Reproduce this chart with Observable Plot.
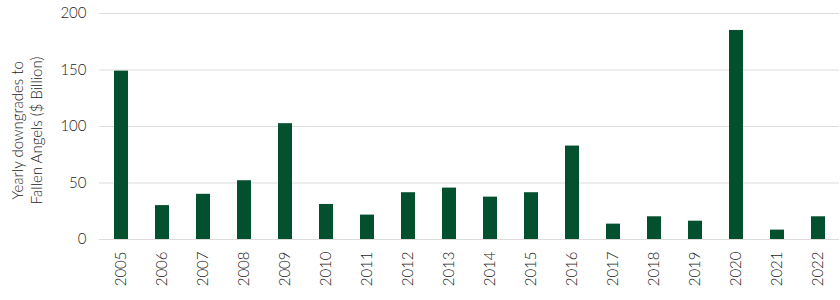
<!DOCTYPE html>
<html>
<head>
<meta charset="utf-8">
<script src="https://cdn.jsdelivr.net/npm/d3@7"></script>
<script src="https://cdn.jsdelivr.net/npm/@observablehq/plot@0.6"></script>
<style>
  html, body { margin: 0; padding: 0; background: #fff; }
  #chart svg { display: block; }
</style>
</head>
<body>
<div id="chart"></div>
<script>
const years = ["2005","2006","2007","2008","2009","2010","2011","2012","2013","2014","2015","2016","2017","2018","2019","2020","2021","2022"];
const downgrades = [149, 30, 40, 52, 102.5, 31, 21.6, 41.4, 45.5, 37.5, 41.4, 82.7, 13.6, 20.1, 16.2, 185, 8.3, 20.1];
const yTicks = [0, 50, 100, 150, 200];
const yLabel = "Yearly downgrades to\nFallen Angels ($ Billion)";

const data = years.map((y, i) => ({year: y, value: downgrades[i]}));

const chart = Plot.plot({
  width: 840,
  height: 300,
  marginTop: 13,
  marginBottom: 61,
  marginLeft: 99,
  marginRight: 1,
  style: {fontFamily: "Lato, 'Open Sans', sans-serif", fontSize: "15px", fontWeight: 300, color: "#1a1a1a", background: "#fff"},
  x: {domain: years, paddingInner: 0.66, paddingOuter: 0.33, label: null, tickSize: 0, tickRotate: -90, tickPadding: 12},
  y: {domain: [0, 200], ticks: yTicks, label: null, tickSize: 0, tickPadding: 13},
  marks: [
    Plot.gridY(yTicks, {stroke: "#dcdcdc", strokeOpacity: 1}),
    Plot.barY(data, {x: "year", y: "value", fill: "#03502f"}),
    Plot.text([yLabel], {frameAnchor: "left", rotate: -90, textAnchor: "middle", lineAnchor: "middle", dx: -73, dy: 4, lineHeight: 1.25, fill: "#222", fontSize: 15, fontWeight: 300})
  ]
});
document.getElementById("chart").appendChild(chart);
</script>
</body>
</html>
